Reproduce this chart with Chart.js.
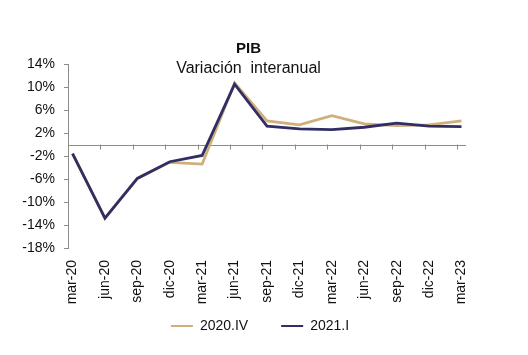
<!DOCTYPE html>
<html>
<head>
<meta charset="utf-8">
<script src="https://cdn.jsdelivr.net/npm/chart.js@4/dist/chart.umd.min.js"></script>
<style>
html,body{margin:0;padding:0;background:#fff;}
#wrap{position:relative;width:528px;height:355px;overflow:hidden;}
#c{position:absolute;left:0;top:0;}
.t{position:absolute;left:0;width:497px;text-align:center;font-family:"Liberation Sans",Arial,sans-serif;color:#111;white-space:pre;}
</style>
</head>
<body>
<div id="wrap">
<canvas id="c" width="528" height="355"></canvas>
<div class="t" style="top:39px;font-size:15px;line-height:17px;font-weight:bold;">PIB</div>
<div class="t" style="top:59px;font-size:16px;line-height:18px;">Variación  interanual</div>
</div>
<script>
const categories = ['mar-20','jun-20','sep-20','dic-20','mar-21','jun-21','sep-21','dic-21','mar-22','jun-22','sep-22','dic-22','mar-23'];
const serie2020IV = [-1.6, -12.8, -5.9, -3.1, -3.4, 10.7, 4.1, 3.4, 5.0, 3.6, 3.3, 3.4, 4.1];
const serie2021I  = [-1.6, -12.8, -5.9, -3.0, -1.9, 10.5, 3.2, 2.7, 2.6, 3.0, 3.7, 3.2, 3.1];
const seriesNames = ['2020.IV', '2021.I'];
const yTicks = [-18, -14, -10, -6, -2, 2, 6, 10, 14];

const FONT = "'Liberation Sans', Arial, sans-serif";
Chart.defaults.font.family = FONT;
Chart.defaults.color = '#111';

const toPoints = arr => arr.map((v, i) => ({ x: i, y: v }));

const zeroAxis = {
  id: 'zeroAxis',
  beforeDraw(chart) {
    // move the legend just under the rotated category labels
    if (chart.legend) {
      chart.legend.top -= 24;
      chart.legend.bottom -= 24;
      chart.legend.left -= 7;
      chart.legend.right -= 7;
    }
  },
  beforeDatasetsDraw(chart) {
    const { ctx, chartArea, scales: { x, y } } = chart;
    const y0 = Math.round(y.getPixelForValue(0)) + 0.5;
    ctx.save();
    ctx.strokeStyle = '#8c8c8c';
    ctx.lineWidth = 1;
    ctx.beginPath();
    ctx.moveTo(chartArea.left, y0);
    ctx.lineTo(chartArea.right, y0);
    for (let i = 1; i < categories.length; i++) {
      const px = Math.round(x.getPixelForValue(x.min + i)) + 0.5;
      ctx.moveTo(px, y0 - 1);
      ctx.lineTo(px, y0 + 4);
    }
    ctx.stroke();
    ctx.restore();
  }
};

new Chart(document.getElementById('c'), {
  type: 'line',
  data: {
    datasets: [
      { label: seriesNames[0], data: toPoints(serie2020IV), borderColor: '#D0AF7A', backgroundColor: '#D0AF7A', borderWidth: 2.8, pointRadius: 0, tension: 0, order: 2 },
      { label: seriesNames[1], data: toPoints(serie2021I), borderColor: '#302E64', backgroundColor: '#302E64', borderWidth: 2.8, pointRadius: 0, tension: 0, order: 1 }
    ]
  },
  options: {
    responsive: false,
    animation: false,
    events: [],
    layout: { padding: { left: 0, right: 62, top: 64, bottom: 0 } },
    scales: {
      x: {
        type: 'linear',
        min: -0.14,
        max: 12.14,
        afterBuildTicks: s => { s.ticks = categories.map((_, i) => ({ value: i })); },
        afterFit: s => { s.height = 62; },
        ticks: {
          autoSkip: false,
          minRotation: 90,
          maxRotation: 90,
          padding: 4,
          font: { size: 14 },
          color: '#111',
          callback: v => categories[v]
        },
        grid: { display: false },
        border: { display: false }
      },
      y: {
        min: -18,
        max: 14,
        afterBuildTicks: s => { s.ticks = yTicks.map(v => ({ value: v })); },
        afterFit: s => { s.width = 68; },
        ticks: {
          padding: 9,
          font: { size: 14 },
          color: '#111',
          callback: v => v + '%'
        },
        grid: { drawOnChartArea: false, drawTicks: true, tickLength: 4, color: '#8c8c8c' },
        border: { display: true, color: '#8c8c8c', width: 1 }
      }
    },
    plugins: {
      title: { display: false },
      tooltip: { enabled: false },
      legend: {
        display: true,
        position: 'bottom',
        fullSize: false,
        maxHeight: 45,
        labels: {
          boxWidth: 22,
          boxHeight: 2,
          padding: 33,
          font: { size: 14 },
          color: '#111',
          sort: (a, b) => a.datasetIndex - b.datasetIndex,
          generateLabels: chart => Chart.defaults.plugins.legend.labels.generateLabels(chart)
            .map(it => ({ ...it, lineWidth: 0, fillStyle: it.strokeStyle }))
        }
      }
    }
  },
  plugins: [zeroAxis]
});
</script>
</body>
</html>
